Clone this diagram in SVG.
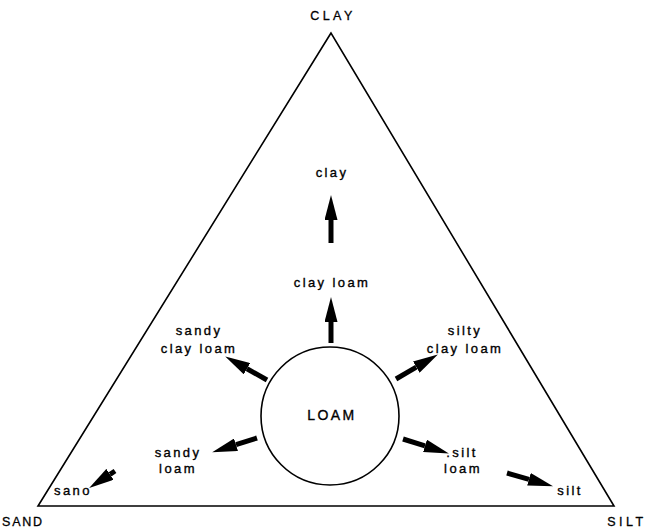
<svg xmlns="http://www.w3.org/2000/svg" width="653" height="528" viewBox="0 0 653 528">
<defs>
<marker id="ah" markerUnits="userSpaceOnUse" markerWidth="25" markerHeight="13" refX="0" refY="6.5" orient="auto">
<path d="M0,0 L25,6.5 L0,13 z" fill="#000"/>
</marker>
<style>
.t{font-family:"Liberation Sans",Arial,sans-serif;font-size:13px;letter-spacing:2.4px;fill:#000;stroke:#000;stroke-width:0.35;text-anchor:middle}
.c{font-family:"Liberation Sans",Arial,sans-serif;font-size:12.5px;letter-spacing:3.5px;fill:#000;stroke:#000;stroke-width:0.3;text-anchor:middle}
.a{stroke:#000;stroke-width:5;fill:none;marker-end:url(#ah)}
</style>
</defs>
<rect width="653" height="528" fill="#fff"/>
<g id="triangle"><polygon points="331,33 38,506 614,506" fill="none" stroke="#000" stroke-width="1.6"/></g>
<g id="clay-vertex"><text class="c" x="333" y="20">CLAY</text></g>
<g id="sand-vertex"><text class="c" x="2" y="526" style="text-anchor:start;letter-spacing:1.8px">SAND</text></g>
<g id="silt-vertex"><text class="c" x="627" y="526">SILT</text></g>
<g id="loam"><circle cx="330" cy="416" r="69" fill="none" stroke="#000" stroke-width="1.6"/><text class="t" x="332" y="420" style="font-size:14px">LOAM</text></g>
<g id="clay"><text class="t" x="332" y="177">clay</text></g>
<g id="clay-loam"><text class="t" x="332" y="287">clay loam</text></g>
<g id="sandy-clay-loam"><text class="t" x="199" y="335">sandy</text><text class="t" x="199" y="353">clay loam</text></g>
<g id="silty-clay-loam"><text class="t" x="465" y="335">silty</text><text class="t" x="465" y="353">clay loam</text></g>
<g id="sandy-loam"><text class="t" x="178" y="457">sandy</text><text class="t" x="178" y="473">loam</text></g>
<g id="silt-loam"><text class="t" x="462" y="457">.silt</text><text class="t" x="463" y="473">loam</text></g>
<g id="sand"><text class="t" x="73" y="495">sano</text></g>
<g id="silt"><text class="t" x="570" y="495">silt</text></g>
<g id="connectors">
<line class="a" x1="331" y1="243" x2="331" y2="220"/>
<line class="a" x1="331" y1="343" x2="331" y2="322"/>
<line class="a" x1="267" y1="380" x2="247" y2="368.7"/>
<line class="a" x1="396" y1="379" x2="416.3" y2="367.1"/>
<line class="a" x1="257" y1="438" x2="236" y2="444.7"/>
<line class="a" x1="403" y1="439" x2="425" y2="445.9"/>
<line class="a" x1="507" y1="473" x2="529" y2="479.3"/>
<line class="a" x1="115" y1="471" x2="110" y2="474.3"/>
</g>
</svg>
